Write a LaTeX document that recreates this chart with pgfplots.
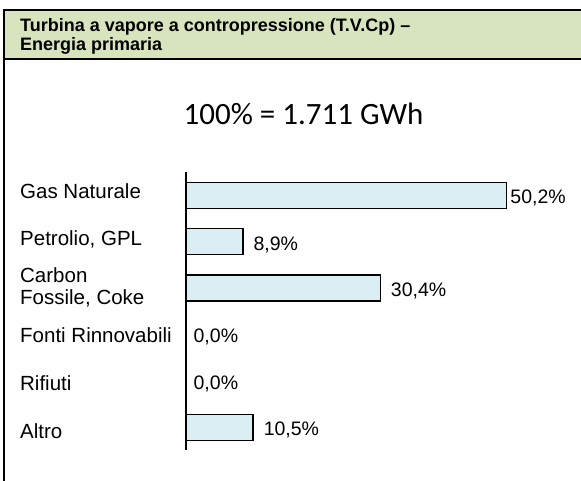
\documentclass[border=0pt]{standalone}
\usepackage{pgfplots}
\pgfplotsset{compat=1.18}
\usepackage{fontspec}
\setmainfont{Liberation Sans}
\newfontfamily\carlito{Carlito}
\definecolor{hdr}{HTML}{D7E4BD}
\definecolor{barfill}{HTML}{DAEEF3}
\begin{document}
\begin{tikzpicture}[x=1bp,y=1bp]
\useasboundingbox (0,0) rectangle (581,481);
\fill[hdr] (4,471) rectangle (581,422);
\draw[line width=1.2bp] (581,471) -- (4,471) -- (4,0);
\draw[line width=1.2bp] (4,422) -- (581,422);
\node[anchor=base west, inner sep=0, font=\bfseries\fontsize{18bp}{19bp}\selectfont] at (20,481-32) {Turbina a vapore a contropressione (T.V.Cp) --};
\node[anchor=base west, inner sep=0, font=\bfseries\fontsize{18bp}{19bp}\selectfont] at (20,481-51) {Energia primaria};
\node[anchor=base, inner sep=0, font=\carlito\fontsize{31bp}{34bp}\selectfont] at (303.5,481-125) {100\% = 1.711 GWh};
\begin{axis}[
  at={(186bp,309bp)}, anchor=north west,
  x=6.39bp, y=46.4bp,
  xmin=0, xmax=60, ymin=-0.5, ymax=5.5,
  y dir=reverse,
  axis x line=none,
  axis y line=left,
  axis line style={-, line width=1.2bp, black},
  ytick={0,1,2,3,4,5},
  yticklabels={Gas Naturale, {Petrolio, GPL}, {Carbon\\Fossile, Coke}, Fonti Rinnovabili, Rifiuti, Altro},
  major tick length=0pt,
  yticklabel style={anchor=west, inner sep=0pt, xshift=-166bp, yshift={(4-1.6*\ticknum)*1bp}, align=left,
    font=\fontsize{20.5bp}{22bp}\selectfont},
  clip=false,
  xbar, bar width=26bp, bar shift=0pt,
  point meta=x,
  visualization depends on={\thisrow{s} \as \lshift},
  nodes near coords={\pgfmathprintnumber[fixed,fixed zerofill,precision=1,use comma,assume math mode=true]{\pgfplotspointmeta}\%},
  every node near coord/.append style={anchor=west, inner sep=0pt, xshift=\lshift*1bp, yshift=-3bp,
    font=\fontsize{19.5bp}{22bp}\selectfont},
]
\addplot[fill=barfill, draw=black, line width=1.3bp] table[x=v, y=i] {
i v s
0 50.2 3
1 8.9 10
2 30.4 10
3 0.0 7
4 0.0 7
5 10.5 10
};
\end{axis}
\end{tikzpicture}
\end{document}
